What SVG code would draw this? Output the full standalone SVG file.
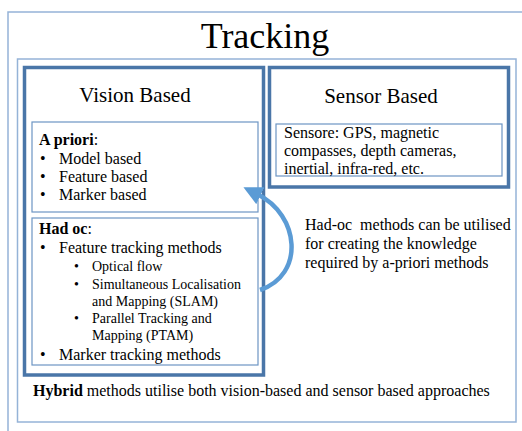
<svg xmlns="http://www.w3.org/2000/svg" width="522" height="431" viewBox="0 0 522 431" font-family="'Liberation Serif', 'Times New Roman', Times, serif">
<style>
text, tspan{font-family:'Liberation Serif','Times New Roman',Times,serif;fill:#000}
.frame{fill:#fff;stroke:#95b3d7;stroke-width:1.5}
.thick{fill:#fff;stroke:#4a76a8;stroke-width:3.5}
.thin{fill:#fff;stroke:#6d95c4;stroke-width:1.2}
.t16{font-size:16px}
.t14{font-size:14px}
.b{font-weight:bold}
</style>
<defs>
<marker id="ah" viewBox="0 0 10 10" refX="2" refY="5" markerWidth="4.2" markerHeight="4.2" orient="auto" markerUnits="strokeWidth">
<path d="M0 0 L10 5 L0 10 z" fill="#5b9bd5"/>
</marker>
</defs>
<rect x="0" y="0" width="522" height="431" fill="#fff"/>
<g id="outer">
<rect class="frame" x="8" y="12" width="530" height="440"/>
<text x="265" y="48" font-size="36" text-anchor="middle">Tracking</text>
</g>
<g id="inner">
<rect class="frame" x="17.5" y="59" width="498.5" height="363"/>
<text class="t16" x="33" y="396"><tspan class="b">Hybrid</tspan> methods utilise both vision-based and sensor based approaches</text>
</g>
<g id="vision">
<rect class="thick" x="24.5" y="67.5" width="239" height="307.5"/>
<text x="135" y="102" font-size="21" text-anchor="middle">Vision Based</text>
</g>
<g id="apriori">
<rect class="thin" x="32" y="122" width="226" height="90"/>
<text class="t16" x="39" y="145"><tspan class="b">A priori</tspan>:</text>
<text class="t16" x="40" y="164">•</text><text class="t16" x="59" y="164">Model based</text>
<text class="t16" x="40" y="182">•</text><text class="t16" x="59" y="182">Feature based</text>
<text class="t16" x="40" y="200">•</text><text class="t16" x="59" y="200">Marker based</text>
</g>
<g id="hadoc">
<rect class="thin" x="32" y="218" width="226" height="147"/>
<text class="t16" x="39" y="234"><tspan class="b">Had oc</tspan>:</text>
<text class="t16" x="40" y="253">•</text><text class="t16" x="59" y="253">Feature tracking methods</text>
<text class="t14" x="74" y="271">•</text><text class="t14" x="92" y="271">Optical flow</text>
<text class="t14" x="74" y="289">•</text><text class="t14" x="92" y="289">Simultaneous Localisation</text>
<text class="t14" x="92" y="306">and Mapping (SLAM)</text>
<text class="t14" x="74" y="323">•</text><text class="t14" x="92" y="323">Parallel Tracking and</text>
<text class="t14" x="92" y="340">Mapping (PTAM)</text>
<text class="t16" x="40" y="360">•</text><text class="t16" x="59" y="360">Marker tracking methods</text>
</g>
<g id="sensor">
<rect class="thick" x="269.5" y="67.5" width="239" height="119.5"/>
<text x="381" y="103" font-size="21" text-anchor="middle">Sensor Based</text>
</g>
<g id="sensore">
<rect class="thin" x="276" y="124" width="226" height="52"/>
<text class="t16" x="284" y="138">Sensore: GPS, magnetic</text>
<text class="t16" x="284" y="156">compasses, depth cameras,</text>
<text class="t16" x="284" y="174">inertial, infra-red, etc.</text>
</g>
<g id="note">
<text class="t16" x="305" y="230" xml:space="preserve">Had-oc  methods can be utilised</text>
<text class="t16" x="305" y="249">for creating the knowledge</text>
<text class="t16" x="305" y="268">required by a-priori methods</text>
</g>
<g id="connectors">
<path d="M260 290 C 305 275, 300 215, 257 194" fill="none" stroke="#5b9bd5" stroke-width="4.5" marker-end="url(#ah)"/>
</g>
</svg>
